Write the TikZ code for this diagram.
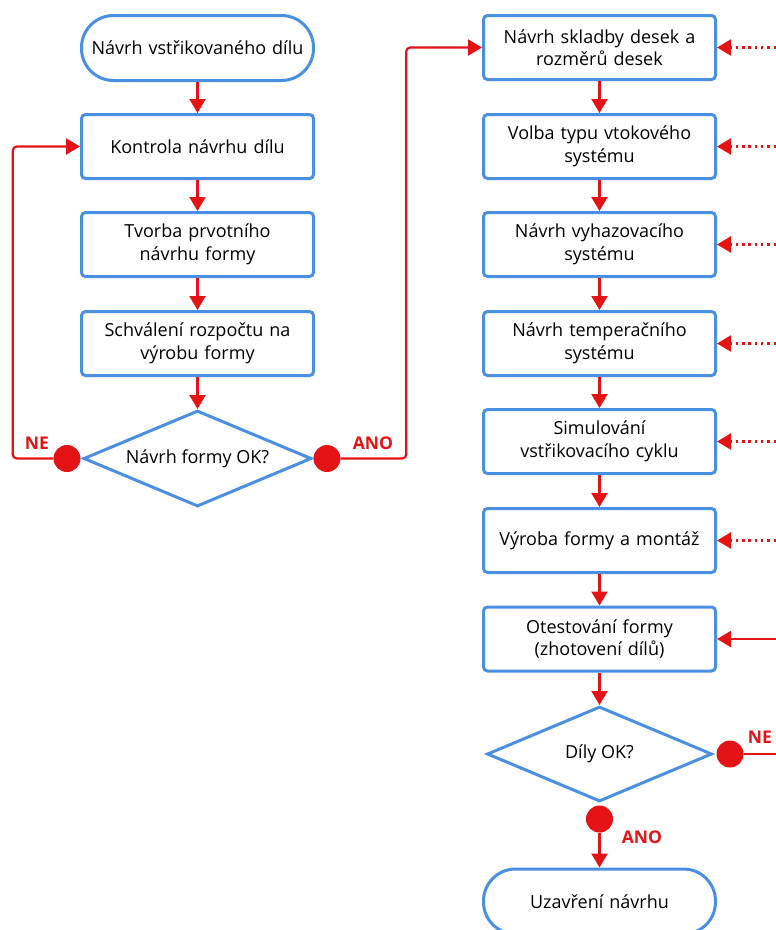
\documentclass[tikz,border=0pt]{standalone}
\usepackage{fontspec}
\setmainfont{Open Sans}
\usetikzlibrary{shapes.geometric,arrows.meta,positioning,calc}
\definecolor{fblue}{RGB}{74,144,226}
\definecolor{fred}{RGB}{228,20,22}
\begin{document}
\begin{tikzpicture}[x=1pt,y=-1pt,
  proc/.style={draw=fblue, line width=3pt, rounded corners=4pt, minimum width=232pt, minimum height=64pt, align=center, text width=228pt, inner sep=0pt, font=\fontsize{18}{22.5}\selectfont, fill=white},
  termbox/.style={proc, minimum height=65pt, rounded corners=32pt},
  decide/.style={draw=fblue, line width=3pt, shape=diamond, shape aspect=2.37, inner sep=0pt, font=\fontsize{18}{22.5}\selectfont, fill=white},
  dotnode/.style={circle, fill=fred, minimum size=27pt, inner sep=0pt},
  flow/.style={draw=fred, line width=2.2pt, -{Triangle[length=14pt,width=16pt]}},
  plainflow/.style={draw=fred, line width=2.2pt},
  dotflow/.style={draw=fred, line width=2.4pt, dash pattern=on 2.5pt off 3.8pt, -{Triangle[length=14pt,width=16pt]}},
  lbl/.style={text=fred, font=\fontsize{17.5}{18}\selectfont\bfseries, inner sep=0pt}
]
\useasboundingbox (0,0) rectangle (776,930);

% left column
\node[termbox] (t) at (197.5,48) {Návrh vstřikovaného dílu};
\node[proc] (k) at (197.5,146.5) {Kontrola návrhu dílu};
\node[proc] (b2) at (197.5,244.5) {Tvorba prvotního\\návrhu formy};
\node[proc] (b3) at (197.5,343.5) {Schválení rozpočtu na\\výrobu formy};
\node[decide, minimum width=228pt, minimum height=96pt] (d1) at (197.5,458.5) {Návrh formy OK?};
\node[dotnode] (nel) at (67,458.5) {};
\node[dotnode] (anol) at (327,458.5) {};
\node[lbl] (ne1) at (37,443) {NE};
\node[lbl] (ano1) at (373,443) {ANO};

% right column
\node[proc] (r1) at (599.5,47.5) {Návrh skladby desek a\\rozměrů desek};
\node[proc] (r2) at (599.5,146.5) {Volba typu vtokového\\systému};
\node[proc] (r3) at (599.5,244.5) {Návrh vyhazovacího\\systému};
\node[proc] (r4) at (599.5,343.5) {Návrh temperačního\\systému};
\node[proc] (r5) at (599.5,441.5) {Simulování\\vstřikovacího cyklu};
\node[proc] (r6) at (599.5,540.5) {Výroba formy a montáž};
\node[proc] (r7) at (599.5,639) {Otestování formy\\(zhotovení dílů)};
\node[decide, minimum width=225pt, minimum height=95pt] (d2) at (599.5,754) {Díly OK?};
\node[dotnode] (ner) at (730,754) {};
\node[dotnode] (anob) at (599.5,819) {};
\node[lbl] (ne2) at (760,737) {NE};
\node[lbl] (ano2) at (642,837) {ANO};
\node[termbox] (u) at (599.5,901.5) {Uzavření návrhu};

% free ends at the right edge
\coordinate (e1) at (776,47.5);
\coordinate (e2) at (776,146.5);
\coordinate (e3) at (776,244.5);
\coordinate (e4) at (776,343.5);
\coordinate (e5) at (776,441.5);
\coordinate (e6) at (776,540.5);
\coordinate (e7) at (776,639);
\coordinate (eout) at (776,754);

% left connectors
\draw[flow] (t) -- (k);
\draw[flow] (k) -- (b2);
\draw[flow] (b2) -- (b3);
\draw[flow] (b3) -- (d1);
\draw[flow, rounded corners=4pt] (nel.west) -- ++(-40.5,0) |- (k.west);
\draw[flow, rounded corners=4pt] (anol.east) -- ++(65.5,0) |- (r1.west);

% right connectors
\draw[flow] (r1) -- (r2);
\draw[flow] (r2) -- (r3);
\draw[flow] (r3) -- (r4);
\draw[flow] (r4) -- (r5);
\draw[flow] (r5) -- (r6);
\draw[flow] (r6) -- (r7);
\draw[flow] (r7) -- (d2);
\draw[flow] (anob.south) -- (u.north);
\draw[plainflow] (ner.east) -- (eout);
\draw[flow] (e7) -- (r7.east);
\foreach \i in {1,...,6} {\draw[dotflow] (e\i) -- (r\i.east);}
\end{tikzpicture}
\end{document}
